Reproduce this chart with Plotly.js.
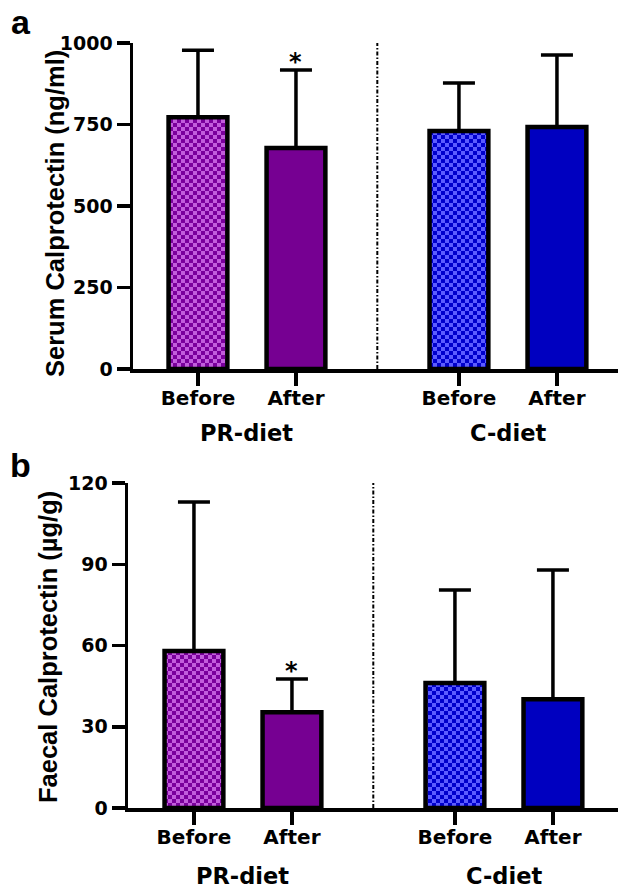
<!DOCTYPE html>
<html><head><meta charset="utf-8">
<script src="https://cdn.plot.ly/plotly-3.0.1.min.js"></script>
<style>html,body{margin:0;padding:0;background:#fff;}#chart{width:620px;height:888px;}</style>
</head><body><div id="chart"></div>
<script>
// ---- data ----
const diets = ['PR-diet', 'C-diet'];
const timepoints = ['Before', 'After', 'Before', 'After'];
const barDiet = ['PR-diet', 'PR-diet', 'C-diet', 'C-diet'];
const serumMean = [772, 678, 730, 742];
const serumSD = [206, 239, 147, 221];
const faecalMean = [58.0, 35.4, 46.2, 40.2];
const faecalSD = [55.0, 12.2, 34.3, 47.7];
const serumSig = [false, true, false, false];
const faecalSig = [false, true, false, false];
const serumTicks = [0, 250, 500, 750, 1000];
const faecalTicks = [0, 30, 60, 90, 120];
const serumTitle = 'Serum Calprotectin (ng/ml)';
const faecalTitle = 'Faecal Calprotectin (\u00b5g/g)';

// ---- layout / style ----
const slotX = [0, 1, 2.663, 3.663];
const dividerX = 1.83;
const W = 620, H = 888;
const px = v => v / W, py = v => 1 - v / H;
const solid = {'PR-diet': '#760092', 'C-diet': '#0000c0'};
const checker = {'PR-diet': ['#7a009c', '#c25ddc'], 'C-diet': ['#0000cc', '#5c5cff']};
const tickFont = {family: 'DejaVu Sans', size: 19, color: '#000', weight: 700};
const xTickFont = {family: 'DejaVu Sans', size: 20, color: '#000', weight: 700};
const titleFont = {family: 'Liberation Sans', size: 25.5, color: '#000', weight: 700};
const groupFont = {family: 'DejaVu Sans', size: 22.5, color: '#000', weight: 700};

function barTrace(mean, sd, xa, ya) {
  return {
    type: 'bar', x: slotX, y: mean, width: 0.6, xaxis: xa, yaxis: ya,
    marker: {color: barDiet.map(d => solid[d]), line: {color: '#000', width: 4.5}},
    error_y: {type: 'data', symmetric: false, array: sd, arrayminus: sd.map(() => 0),
              color: '#000', thickness: 3.5, width: 16},
    hoverinfo: 'skip', showlegend: false
  };
}

function xAxis(domain, range, anchor) {
  return {domain, range, anchor, tickmode: 'array', tickvals: slotX, ticktext: timepoints,
    ticks: 'outside', ticklen: 13, tickwidth: 3.5, tickcolor: '#000', ticklabelstandoff: -5,
    showline: true, linewidth: 3.5, linecolor: '#000', showgrid: false, zeroline: false,
    tickfont: xTickFont, fixedrange: true};
}
function yAxis(domain, range, ticks, anchor) {
  return {domain, range, anchor, tickmode: 'array', tickvals: ticks, ticktext: ticks.map(String),
    ticks: 'outside', ticklen: 13, tickwidth: 3.5, tickcolor: '#000',
    showline: true, linewidth: 3.5, linecolor: '#000', showgrid: false, zeroline: false,
    tickfont: tickFont, fixedrange: true};
}

const annotations = [];
function sigAnn(mean, sd, sig, xr, yr) {
  sig.forEach((s, i) => {
    if (!s) return;
    annotations.push({x: slotX[i], y: mean[i] + sd[i], xref: xr, yref: yr, text: '*',
      showarrow: false, yanchor: 'bottom', yshift: -8, font: {family: 'DejaVu Sans', size: 24, color: '#000', weight: 700}});
  });
}
sigAnn(serumMean, serumSD, serumSig, 'x', 'y');
sigAnn(faecalMean, faecalSD, faecalSig, 'x2', 'y2');

function groupAnn(xr, ypx) {
  diets.forEach((d, k) => {
    const xs = slotX.filter((_, i) => barDiet[i] === d);
    annotations.push({x: (xs[0] + xs[xs.length - 1]) / 2, y: py(ypx), xref: xr, yref: 'paper',
      text: d, showarrow: false, xanchor: 'center', yanchor: 'middle', font: groupFont});
  });
}
groupAnn('x', 433);
groupAnn('x2', 876);

annotations.push({x: px(55), y: py(214), xref: 'paper', yref: 'paper', text: serumTitle, textangle: -90,
  showarrow: false, xanchor: 'center', yanchor: 'middle', font: titleFont});
annotations.push({x: px(48), y: py(647), xref: 'paper', yref: 'paper', text: faecalTitle, textangle: -90,
  showarrow: false, xanchor: 'center', yanchor: 'middle', font: titleFont});
annotations.push({x: px(21), y: py(22), xref: 'paper', yref: 'paper', text: 'a', showarrow: false,
  xanchor: 'center', yanchor: 'middle', font: {family: 'Liberation Sans', size: 34, color: '#000', weight: 700}});
annotations.push({x: px(20), y: py(465), xref: 'paper', yref: 'paper', text: 'b', showarrow: false,
  xanchor: 'center', yanchor: 'middle', font: {family: 'Liberation Sans', size: 34, color: '#000', weight: 700}});

const divLine = {color: '#000', width: 2, dash: '4px,2px,1.5px,2px'};
const shapes = [
  {type: 'line', xref: 'x', yref: 'y', x0: dividerX, x1: dividerX, y0: 0, y1: serumTicks[serumTicks.length - 1], line: divLine},
  {type: 'line', xref: 'x2', yref: 'y2', x0: dividerX, x1: dividerX, y0: 0, y1: faecalTicks[faecalTicks.length - 1], line: divLine}
];

const data = [barTrace(serumMean, serumSD, 'x', 'y'), barTrace(faecalMean, faecalSD, 'x2', 'y2')];
const layout = {
  width: W, height: H, margin: {l: 0, r: 0, t: 0, b: 0},
  paper_bgcolor: '#fff', plot_bgcolor: '#fff', showlegend: false,
  xaxis: xAxis([px(133), px(618)], [-0.663, 4.286], 'y'),
  yaxis: yAxis([py(369), py(43)], [0, 1000], serumTicks, 'x'),
  xaxis2: xAxis([px(128), px(618)], [-0.673, 4.327], 'y2'),
  yaxis2: yAxis([py(808), py(483)], [0, 120], faecalTicks, 'x2'),
  annotations, shapes
};

Plotly.newPlot('chart', data, layout, {staticPlot: true, displayModeBar: false}).then(gd => {
  const ns = 'http://www.w3.org/2000/svg';
  const svg = gd.querySelector('svg.main-svg');
  const defs = document.createElementNS(ns, 'defs');
  Object.keys(checker).forEach((d, k) => {
    const [dark, light] = checker[d];
    const pat = document.createElementNS(ns, 'pattern');
    pat.setAttribute('id', 'chk' + k);
    pat.setAttribute('patternUnits', 'userSpaceOnUse');
    pat.setAttribute('width', 8); pat.setAttribute('height', 8);
    [[0, 0, 8, 8, light], [0, 0, 4, 4, dark], [4, 4, 4, 4, dark]].forEach(([x, y, w, h, c]) => {
      const r = document.createElementNS(ns, 'rect');
      r.setAttribute('x', x); r.setAttribute('y', y); r.setAttribute('width', w); r.setAttribute('height', h);
      r.setAttribute('fill', c); pat.appendChild(r);
    });
    defs.appendChild(pat);
  });
  svg.insertBefore(defs, svg.firstChild);
  gd.querySelectorAll('.barlayer .trace').forEach(tr => {
    tr.querySelectorAll('.point path').forEach((p, i) => {
      if (timepoints[i] === 'Before') p.style.fill = 'url(#chk' + diets.indexOf(barDiet[i]) + ')';
    });
  });
});
</script>
</body></html>
